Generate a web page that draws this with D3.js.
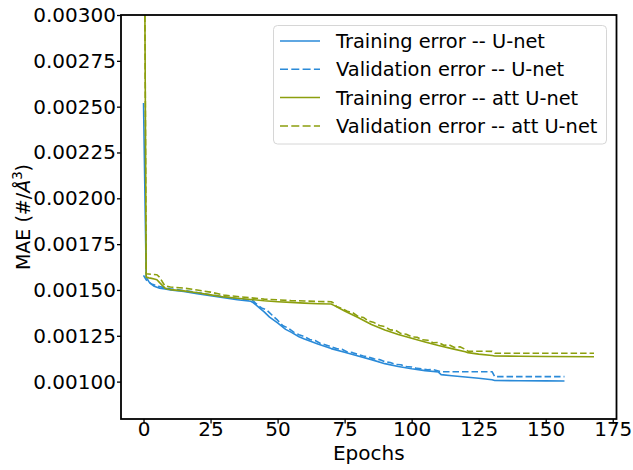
<!DOCTYPE html>
<html>
<head>
<meta charset="utf-8">
<script src="https://cdn.jsdelivr.net/npm/d3@7"></script>
<style>
  html, body { margin: 0; padding: 0; background: #fff; }
  svg { display: block; }
  text { font-family: "DejaVu Sans", sans-serif; fill: #000; }
</style>
</head>
<body>
<svg id="chart" width="633" height="470"></svg>
<script>
// ---- data ----
const unetTrainEpochs = [0,1,2,3,4,5,6,8,10,15,20,25,30,35,40,41,43,45,47,50,53,55,58,60,65,70,75,80,85,90,95,100,105,110,111,115,120,125,130,131,140,150,157];
const unetTrain = [0.00252,0.00157,0.001545,0.00153,0.00152,0.001515,0.00151,0.001505,0.0015,0.001492,0.00148,0.001468,0.001458,0.001447,0.001438,0.00143,0.001405,0.00138,0.001352,0.00132,0.001285,0.00127,0.001245,0.001232,0.001205,0.00118,0.00116,0.00114,0.00112,0.001098,0.001082,0.00107,0.00106,0.001052,0.001038,0.001032,0.001025,0.001018,0.00101,0.001006,0.001005,0.001004,0.001003];

const unetValEpochs = [0,1,2,3,5,8,10,15,20,25,30,35,40,41,42,44,46,48,50,52,54,56,58,60,62,64,66,68,70,72,74,76,78,80,82,84,86,88,90,92,94,96,98,100,102,104,106,108,110,111,130,131,157];
const unetVal = [0.00158,0.001555,0.001542,0.001533,0.001522,0.001512,0.001506,0.001497,0.001486,0.001474,0.001463,0.001452,0.001444,0.00144,0.001425,0.001402,0.00139,0.001362,0.001335,0.001305,0.001292,0.00127,0.001256,0.001246,0.00123,0.001224,0.001208,0.0012,0.00119,0.00118,0.001176,0.001162,0.001158,0.001148,0.00114,0.001134,0.001124,0.00112,0.001108,0.001104,0.001094,0.001092,0.001082,0.00108,0.001072,0.00107,0.001064,0.001066,0.001058,0.001054,0.001054,0.001027,0.001027];

const attTrainEpochs = [0,1,2,3,4,5,6,7,8,9,10,15,20,25,30,35,40,45,50,55,60,65,70,71,75,80,85,90,95,100,105,110,115,120,121,125,130,131,140,150,168];
const attTrain = [0.0045,0.00157,0.001566,0.001563,0.00156,0.001556,0.00154,0.001525,0.00151,0.001505,0.001502,0.001495,0.001485,0.001473,0.001462,0.001455,0.001448,0.001441,0.001436,0.001432,0.001428,0.001425,0.001423,0.001416,0.001385,0.00135,0.001312,0.001282,0.001257,0.001236,0.001216,0.001197,0.00118,0.001163,0.001158,0.00115,0.001142,0.00114,0.001138,0.001137,0.001136];

const attValEpochs = [0,1,5,6,7,8,10,15,20,25,30,35,40,45,50,55,60,65,70,71,72,74,76,78,80,82,84,86,88,90,92,94,96,98,100,102,104,106,108,110,112,114,116,118,120,121,130,131,168];
const attVal = [0.0045,0.001588,0.001583,0.00157,0.001545,0.001522,0.001516,0.00151,0.0015,0.001488,0.001472,0.001464,0.001457,0.00145,0.001446,0.001442,0.00144,0.001437,0.001436,0.001428,0.00141,0.001398,0.001384,0.001376,0.001356,0.00135,0.00133,0.001322,0.001306,0.0013,0.001282,0.00128,0.001262,0.001258,0.001244,0.001242,0.001228,0.001226,0.001212,0.001214,0.001198,0.0012,0.001186,0.00119,0.001176,0.001166,0.001165,0.001155,0.001155];

const seriesNames = ["Training error -- U-net","Validation error -- U-net","Training error -- att U-net","Validation error -- att U-net"];
const xTickValues = [0,25,50,75,100,125,150,175];
const yTickValues = [0.00100,0.00125,0.00150,0.00175,0.00200,0.00225,0.00250,0.00275,0.00300];

// ---- layout ----
const plot = {left: 121, right: 616.5, top: 15, bottom: 419};
const blue = "#2a8ad8", olive = "#8c9f0e";
const FS = 20, LFS = 19.4, YLFS = 19;

const svg = d3.select("#chart");

const x = d3.scaleLinear().domain([-8.4, 176.4]).range([plot.left, plot.right]);
const y = d3.scaleLinear().domain([0.000796, 0.003]).range([plot.bottom, plot.top]);

const zip = (ex, vs) => ex.map((e, i) => [e, vs[i]]);
const series = [
  {name: seriesNames[0], data: zip(unetTrainEpochs, unetTrain), color: blue, dash: null},
  {name: seriesNames[1], data: zip(unetValEpochs, unetVal), color: blue, dash: "6.5,3"},
  {name: seriesNames[2], data: zip(attTrainEpochs, attTrain), color: olive, dash: null},
  {name: seriesNames[3], data: zip(attValEpochs, attVal), color: olive, dash: "6.5,3"}
];

svg.append("defs").append("clipPath").attr("id", "clip")
  .append("rect")
  .attr("x", plot.left).attr("y", plot.top)
  .attr("width", plot.right - plot.left).attr("height", plot.bottom - plot.top);

const line = d3.line().x(d => x(d[0])).y(d => y(d[1]));

const g = svg.append("g").attr("clip-path", "url(#clip)");
series.forEach(s => {
  g.append("path")
    .attr("d", line(s.data))
    .attr("fill", "none")
    .attr("stroke", s.color)
    .attr("stroke-width", 1.6)
    .attr("stroke-dasharray", s.dash)
    .attr("stroke-linejoin", "round");
});

// axes
const xAxis = d3.axisBottom(x).tickValues(xTickValues).tickSize(4.5).tickPadding(0).tickFormat(d3.format("d"));
const yAxis = d3.axisLeft(y).tickValues(yTickValues).tickSize(4).tickPadding(1).tickFormat(d => d.toFixed(5));

const gx = svg.append("g").attr("transform", `translate(0,${plot.bottom})`).call(xAxis);
const gy = svg.append("g").attr("transform", `translate(${plot.left},0)`).call(yAxis);
[gx, gy].forEach(a => {
  a.select(".domain").remove();
  a.selectAll(".tick line").attr("stroke", "#000").attr("stroke-width", 1.3);
  a.selectAll(".tick text").attr("font-size", FS).attr("font-family", "DejaVu Sans").attr("fill", "#000");
});
gx.selectAll(".tick text").attr("y", 3.2);

// frame
svg.append("rect")
  .attr("x", plot.left).attr("y", plot.top)
  .attr("width", plot.right - plot.left).attr("height", plot.bottom - plot.top)
  .attr("fill", "none").attr("stroke", "#000").attr("stroke-width", 1.8);

// axis labels
svg.append("text")
  .attr("x", (plot.left + plot.right) / 2).attr("y", 459.5)
  .attr("text-anchor", "middle").attr("font-size", FS)
  .text("Epochs");

const yl = svg.append("text")
  .attr("transform", `translate(29.5,${(plot.top + plot.bottom) / 2}) rotate(-90)`)
  .attr("text-anchor", "middle").attr("font-size", YLFS);
yl.append("tspan").text("MAE (#/");
yl.append("tspan").attr("font-style", "italic").text("Å");
yl.append("tspan").attr("font-size", YLFS * 0.7).attr("dy", -8).text("3");
yl.append("tspan").attr("dy", 8).text(")");

// legend
const lg = svg.append("g");
lg.append("rect")
  .attr("x", 273.5).attr("y", 25.5).attr("width", 333).attr("height", 118.5)
  .attr("rx", 4).attr("fill", "#fff").attr("fill-opacity", 0.8)
  .attr("stroke", "#d6d6d6").attr("stroke-width", 1);
const rowY = [41, 69.3, 97.5, 126];
series.forEach((s, i) => {
  lg.append("line")
    .attr("x1", 280).attr("x2", 320).attr("y1", rowY[i]).attr("y2", rowY[i])
    .attr("stroke", s.color).attr("stroke-width", 1.6)
    .attr("stroke-dasharray", s.dash ? "8,3.3" : null);
  lg.append("text")
    .attr("x", 336).attr("y", rowY[i] + 7)
    .attr("font-size", LFS)
    .text(s.name);
});
</script>
</body>
</html>
